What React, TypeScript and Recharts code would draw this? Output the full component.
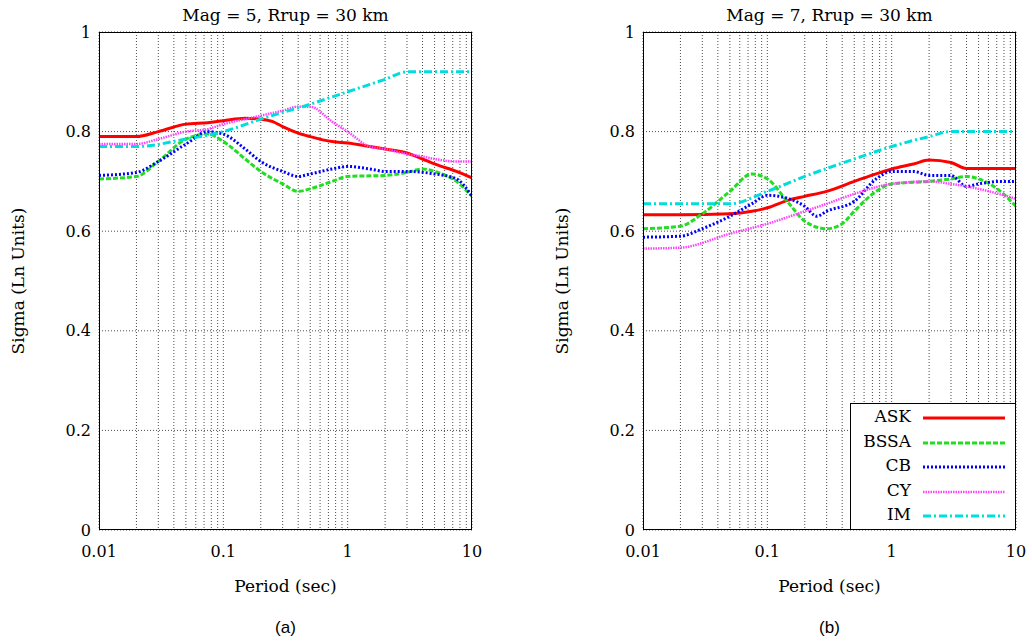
import React from 'react';
import { LineChart, Line, XAxis, YAxis, CartesianGrid } from 'recharts';

type Pt = { x: number; y: number };
const mk = (xs: number[], ys: number[]): Pt[] => xs.map((x, i) => ({ x, y: ys[i] }));

// Panel (a): Mag 5
const askAX = [0.01, 0.02, 0.03, 0.05, 0.075, 0.1, 0.15, 0.2, 0.25, 0.3, 0.4, 0.5, 0.75, 1, 1.5, 2, 3, 4, 5, 7.5, 10];
const askAY = [0.79, 0.79, 0.8, 0.815, 0.818, 0.822, 0.827, 0.825, 0.82, 0.81, 0.797, 0.79, 0.78, 0.777, 0.77, 0.765, 0.757, 0.745, 0.735, 0.72, 0.707];
const bssaAX = [0.01, 0.02, 0.03, 0.05, 0.075, 0.1, 0.15, 0.2, 0.3, 0.4, 0.5, 0.75, 1, 2, 3, 4, 5, 7.5, 10];
const bssaAY = [0.705, 0.71, 0.74, 0.785, 0.795, 0.78, 0.745, 0.72, 0.695, 0.68, 0.685, 0.7, 0.71, 0.712, 0.718, 0.725, 0.72, 0.7, 0.67];
const cbAX = [0.01, 0.02, 0.03, 0.05, 0.075, 0.1, 0.15, 0.2, 0.3, 0.4, 0.5, 0.75, 1, 1.5, 2, 3, 5, 7.5, 10];
const cbAY = [0.712, 0.718, 0.74, 0.775, 0.8, 0.795, 0.765, 0.74, 0.72, 0.71, 0.715, 0.725, 0.73, 0.725, 0.72, 0.72, 0.715, 0.705, 0.67];
const cyAX = [0.01, 0.02, 0.03, 0.05, 0.075, 0.1, 0.15, 0.2, 0.3, 0.4, 0.5, 0.75, 1, 1.5, 2, 3, 4, 5, 7.5, 10];
const cyAY = [0.775, 0.775, 0.785, 0.8, 0.805, 0.815, 0.825, 0.832, 0.842, 0.85, 0.85, 0.82, 0.8, 0.77, 0.765, 0.755, 0.75, 0.745, 0.74, 0.74];
const imAX = [0.01, 0.02, 0.05, 0.1, 0.2, 0.5, 1, 2, 3, 10];
const imAY = [0.77, 0.77, 0.785, 0.8, 0.825, 0.855, 0.88, 0.905, 0.92, 0.92];

// Panel (b): Mag 7
const askBX = [0.01, 0.02, 0.05, 0.075, 0.1, 0.15, 0.2, 0.3, 0.5, 0.75, 1, 1.5, 2, 3, 4, 10];
const askBY = [0.633, 0.633, 0.635, 0.64, 0.647, 0.663, 0.67, 0.68, 0.7, 0.715, 0.725, 0.735, 0.743, 0.738, 0.726, 0.726];
const bssaBX = [0.01, 0.02, 0.03, 0.05, 0.075, 0.1, 0.15, 0.2, 0.3, 0.4, 0.5, 0.75, 1, 2, 3, 4, 5, 7.5, 10];
const bssaBY = [0.605, 0.61, 0.635, 0.68, 0.715, 0.705, 0.655, 0.62, 0.605, 0.615, 0.64, 0.68, 0.695, 0.7, 0.705, 0.71, 0.705, 0.68, 0.65];
const cbBX = [0.01, 0.02, 0.03, 0.05, 0.075, 0.1, 0.15, 0.2, 0.25, 0.3, 0.5, 0.75, 1, 1.5, 2, 3, 4, 5, 7.5, 10];
const cbBY = [0.588, 0.59, 0.605, 0.63, 0.655, 0.672, 0.665, 0.65, 0.63, 0.64, 0.66, 0.705, 0.72, 0.72, 0.712, 0.712, 0.69, 0.695, 0.7, 0.7];
const cyBX = [0.01, 0.02, 0.05, 0.1, 0.2, 0.3, 0.5, 1, 2, 3, 5, 10];
const cyBY = [0.565, 0.567, 0.595, 0.615, 0.64, 0.655, 0.675, 0.695, 0.7, 0.695, 0.685, 0.665];
const imBX = [0.01, 0.05, 0.1, 0.2, 0.5, 1, 2, 3, 10];
const imBY = [0.655, 0.655, 0.68, 0.71, 0.745, 0.77, 0.79, 0.8, 0.8];

const xTicks = [0.01, 0.02, 0.03, 0.04, 0.05, 0.06, 0.07, 0.08, 0.09, 0.1, 0.2, 0.3, 0.4, 0.5, 0.6, 0.7, 0.8, 0.9, 1, 2, 3, 4, 5, 6, 7, 8, 9, 10];
const majorX = [0.01, 0.1, 1, 10];
const yTicks = [0, 0.2, 0.4, 0.6, 0.8, 1];

const styles = [
  { name: 'ASK', color: '#ff0000', width: 3, dash: undefined as string | undefined },
  { name: 'BSSA', color: '#22dd22', width: 3, dash: '5 2' },
  { name: 'CB', color: '#0000ff', width: 3, dash: '2 2' },
  { name: 'CY', color: '#ff44ff', width: 2.5, dash: '1.5 1' },
  { name: 'IM', color: '#00dddd', width: 3, dash: '8 3 2 3' },
];

const font = '"DejaVu Serif", "Liberation Serif", serif';

function Panel({ series, title, left, width, label }: { series: Pt[][]; title: string; left: number; width: number; label: string }) {
  const plotLeft = left + 99;
  const plotRight = left + width - 16;
  return (
    <>
      <div style={{ position: 'absolute', left, top: 0 }}>
        <LineChart width={width} height={600} margin={{ top: 32, right: 16, left: 39, bottom: 40 }}>
          <CartesianGrid stroke="#000" strokeDasharray="1 2" strokeWidth={0.7} />
          <XAxis type="number" dataKey="x" scale="log" domain={[0.01, 10]} ticks={xTicks} interval={0}
            tickFormatter={(v: number) => (majorX.some(m => Math.abs(m - v) < 1e-9) ? String(v) : '')}
            tick={{ fill: '#000', fontSize: 16, fontFamily: font, dy: 8 }} tickLine={false} axisLine={false} height={30} allowDataOverflow />
          <YAxis type="number" domain={[0, 1]} ticks={yTicks} tickFormatter={(v: number) => String(v)}
            tick={{ fill: '#000', fontSize: 16, fontFamily: font }} tickLine={false} axisLine={false} width={60} />
          {series.map((d, i) => (
            <Line key={styles[i].name} data={d} dataKey="y" type="monotone" stroke={styles[i].color} strokeWidth={styles[i].width}
              strokeDasharray={styles[i].dash} dot={false} isAnimationActive={false} />
          ))}
        </LineChart>
      </div>
      <div style={{ position: 'absolute', left: plotLeft, top: 32, width: plotRight - plotLeft, height: 498, border: '1px solid #000', boxSizing: 'border-box' }} />
      <div style={{ position: 'absolute', left: plotLeft, width: plotRight - plotLeft, top: 5, textAlign: 'center', fontFamily: font, fontSize: 17 }}>{title}</div>
      <div style={{ position: 'absolute', left: plotLeft, width: plotRight - plotLeft, top: 576, textAlign: 'center', fontFamily: font, fontSize: 17 }}>Period (sec)</div>
      <div style={{ position: 'absolute', left: plotLeft, width: plotRight - plotLeft, top: 618, textAlign: 'center', fontFamily: 'Arial, "Liberation Sans", sans-serif', fontSize: 17 }}>{label}</div>
      <div style={{ position: 'absolute', left: left + 18, top: 281, transform: 'translate(-50%, -50%) rotate(-90deg)', whiteSpace: 'nowrap', fontFamily: font, fontSize: 17 }}>Sigma (Ln Units)</div>
    </>
  );
}

export default function App() {
  const a = [mk(askAX, askAY), mk(bssaAX, bssaAY), mk(cbAX, cbAY), mk(cyAX, cyAY), mk(imAX, imAY)];
  const b = [mk(askBX, askBY), mk(bssaBX, bssaBY), mk(cbBX, cbBY), mk(cyBX, cyBY), mk(imBX, imBY)];
  return (
    <div style={{ position: 'absolute', left: 0, top: 0, width: 1032, height: 642, background: '#fff', overflow: 'hidden' }}>
      <Panel series={a} title="Mag = 5, Rrup = 30 km" left={0} width={488} label="(a)" />
      <Panel series={b} title="Mag = 7, Rrup = 30 km" left={544} width={488} label="(b)" />
      <div style={{ position: 'absolute', left: 850, top: 403, width: 166, height: 127, border: '1px solid #000', boxSizing: 'border-box', background: '#fff', fontFamily: font, fontSize: 17 }}>
        {styles.map((s, i) => (
          <div key={s.name} style={{ position: 'absolute', top: 2 + i * 24.5, left: 0, width: 60, textAlign: 'right' }}>
            {s.name}
            <svg style={{ position: 'absolute', left: 68, top: 2 }} width={90} height={20}>
              <line x1={4} x2={86} y1={10} y2={10} stroke={s.color} strokeWidth={s.width} strokeDasharray={s.dash} />
            </svg>
          </div>
        ))}
      </div>
    </div>
  );
}
